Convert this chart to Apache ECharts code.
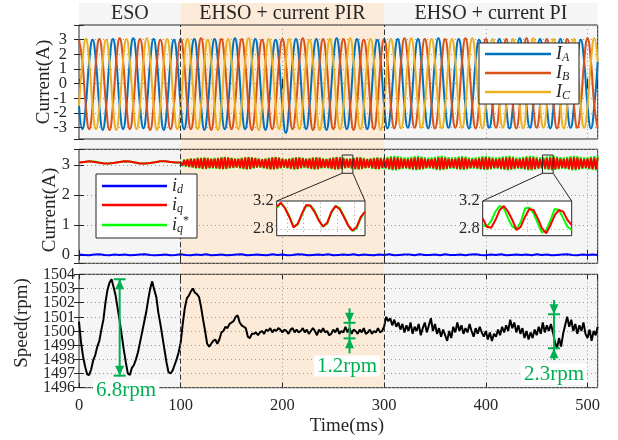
<!DOCTYPE html>
<html><head><meta charset="utf-8">
<script src="https://cdn.jsdelivr.net/npm/echarts@6/dist/echarts.min.js"></script>
<style>html,body{margin:0;padding:0;background:#fff}#c{width:618px;height:440px}</style>
</head><body><div id="c"></div>
<script>
// ---------------- DATA ----------------
const timeMax = 510;                 // ms
const phaseBounds = [0, 100, 300, 510];
const phaseLabels = ['ESO', 'EHSO + current PIR', 'EHSO + current PI'];
const speedTicks = [1496, 1497, 1498, 1499, 1500, 1501, 1502, 1503, 1504];

// Phase currents, one sample every 10/3 ms (60 electrical degrees at 50 Hz)
const phaseStep = 10 / 3;
const IA = [
-1.5,-3.1,-1.5,1.5,3.0,1.5, -1.55,-3.15,-1.55,1.5,3.05,1.55, -1.5,-3.1,-1.5,1.55,3.1,1.5, -1.5,-3.05,-1.5,1.5,3.05,1.5,
-1.55,-3.15,-1.5,1.5,3.0,1.5, -1.5,-3.1,-1.55,1.55,3.05,1.5, -1.5,-3.15,-1.5,1.5,3.05,1.5, -1.55,-3.1,-1.5,1.5,3.1,1.55,
-1.5,-3.1,-1.5,1.55,3.05,1.5, -1.5,-3.15,-1.55,1.5,3.0,1.5, -1.6,-3.35,-1.6,1.5,3.05,1.5, -1.5,-3.1,-1.5,1.5,3.05,1.5,
-1.5,-3.15,-1.5,1.55,3.1,1.5, -1.55,-3.1,-1.5,1.5,3.05,1.5, -1.5,-3.1,-1.55,1.5,3.0,1.5, -1.5,-3.05,-1.5,1.5,3.05,1.55,
-1.5,-3.0,-1.5,1.5,3.05,1.5, -1.5,-3.05,-1.5,1.55,3.1,1.5, -1.5,-3.0,-1.5,1.5,3.05,1.5, -1.55,-3.05,-1.5,1.5,3.0,1.5,
-1.5,-3.0,-1.5,1.5,3.05,1.5, -1.5,-3.05,-1.55,1.5,3.1,1.55, -1.5,-3.0,-1.5,1.5,3.05,1.5, -1.5,-3.05,-1.5,1.55,3.05,1.5,
-1.5,-3.0,-1.5,1.5,3.0,1.5, -1.5,-3.05,-1.5,1.5];
const IB = [
3.0,1.5,-1.5,-3.1,-1.55,1.5, 3.05,1.5,-1.5,-3.15,-1.5,1.55, 3.1,1.55,-1.5,-3.1,-1.55,1.5, 3.05,1.5,-1.55,-3.15,-1.5,1.5,
3.0,1.5,-1.5,-3.1,-1.5,1.5, 3.05,1.5,-1.5,-3.1,-1.55,1.5, 3.1,1.55,-1.5,-3.15,-1.5,1.5, 3.05,1.5,-1.55,-3.1,-1.5,1.55,
3.05,1.5,-1.5,-3.15,-1.55,1.5, 3.0,1.5,-1.5,-3.1,-1.5,1.5, 3.05,1.5,-1.5,-3.1,-1.5,1.5, 3.1,1.55,-1.5,-3.15,-1.55,1.5,
3.05,1.5,-1.5,-3.1,-1.5,1.5, 3.05,1.5,-1.55,-3.15,-1.5,1.55, 3.0,1.5,-1.5,-3.1,-1.5,1.5, 3.05,1.5,-1.5,-3.05,-1.5,1.5,
3.1,1.55,-1.5,-3.0,-1.5,1.5, 3.05,1.5,-1.5,-3.05,-1.55,1.5, 3.05,1.5,-1.5,-3.0,-1.5,1.55, 3.1,1.5,-1.5,-3.05,-1.5,1.5,
3.05,1.55,-1.5,-3.0,-1.5,1.5, 3.05,1.5,-1.5,-3.05,-1.5,1.5, 3.1,1.5,-1.55,-3.0,-1.5,1.5, 3.05,1.5,-1.5,-3.05,-1.5,1.55,
3.05,1.5,-1.5,-3.0,-1.5,1.5, 3.1,1.5,-1.5,-3.05];
const IC = [
-1.5,1.5,3.05,1.5,-1.5,-3.1, -1.55,1.5,3.0,1.5,-1.5,-3.15, -1.5,1.55,3.05,1.5,-1.55,-3.1, -1.5,1.5,3.1,1.55,-1.5,-3.15,
-1.5,1.5,3.05,1.5,-1.5,-3.1, -1.55,1.5,3.05,1.5,-1.5,-3.1, -1.5,1.5,3.0,1.5,-1.55,-3.15, -1.5,1.55,3.05,1.5,-1.5,-3.1,
-1.5,1.5,3.1,1.55,-1.5,-3.15, -1.55,1.5,3.05,1.5,-1.5,-3.1, -1.5,1.5,3.05,1.5,-1.5,-3.1, -1.5,1.5,3.0,1.5,-1.55,-3.15,
-1.5,1.55,3.05,1.5,-1.5,-3.1, -1.5,1.5,3.1,1.5,-1.5,-3.1, -1.55,1.5,3.05,1.55,-1.5,-3.15, -1.5,1.5,3.05,1.5,-1.5,-3.05,
-1.5,1.55,3.1,1.5,-1.5,-3.0, -1.5,1.5,3.05,1.5,-1.55,-3.05, -1.55,1.5,3.05,1.5,-1.5,-3.0, -1.5,1.5,3.1,1.55,-1.5,-3.05,
-1.5,1.5,3.05,1.5,-1.5,-3.0, -1.5,1.55,3.05,1.5,-1.5,-3.05, -1.5,1.5,3.1,1.5,-1.55,-3.0, -1.55,1.5,3.05,1.5,-1.5,-3.05,
-1.5,1.5,3.05,1.5,-1.5,-3.0, -1.5,1.5,3.1,1.5];

// d-axis current, every 5 ms
const idStep = 5;
const iD = [
0.01,0.0,-0.01,0.01,0.02,0.0,-0.01,0.01,0.0,0.01,
-0.01,0.0,0.01,0.02,0.0,-0.01,0.0,0.01,-0.01,0.0,
0.02,0.0,-0.01,0.01,0.0,0.02,-0.01,0.0,0.01,-0.01,
0.0,0.01,0.02,-0.01,0.0,0.01,0.0,-0.01,0.02,0.0,
0.01,-0.01,0.0,0.02,0.01,-0.01,0.0,0.01,0.0,0.02,
-0.01,0.0,0.01,0.0,0.02,-0.01,0.01,0.0,-0.01,0.01,
0.0,0.02,-0.01,0.0,0.01,0.01,-0.01,0.02,0.0,0.0,
0.01,-0.01,0.02,0.0,0.0,0.01,-0.01,0.01,0.02,0.0,
-0.01,0.01,0.0,0.02,-0.01,0.0,0.01,0.0,0.01,-0.01,
0.02,0.0,0.01,-0.01,0.0,0.01,0.02,0.0,-0.01,0.01,
0.0,0.01,0.0];

// q-axis current and its reference, ESO part (0-100 ms, every 5 ms)
const iqEsoStep = 5;
const iqEso    = [3.08,3.1,3.12,3.1,3.07,3.05,3.05,3.07,3.1,3.12,3.11,3.08,3.05,3.05,3.06,3.09,3.12,3.12,3.1,3.08,3.08];
const iqRefEso = [3.08,3.1,3.12,3.11,3.08,3.05,3.05,3.07,3.1,3.12,3.11,3.08,3.05,3.05,3.06,3.09,3.12,3.12,3.1,3.08,3.08];

// 300 Hz ripple part (100-510 ms), one sample every half ripple period (5/3 ms)
const rippleStart = 100, rippleStep = 5 / 3;
const iqRipple = [
3.08,2.98,3.16,2.96,3.18,2.94,3.2,2.92,3.2,2.9,3.22,2.9,
3.22,2.88,3.23,2.88,3.22,2.9,3.2,2.9,3.21,2.89,3.22,2.88,
3.24,2.87,3.25,2.88,3.24,2.9,3.22,2.91,3.2,2.92,3.2,2.9,
3.22,2.88,3.24,2.86,3.25,2.87,3.24,2.9,3.22,2.92,3.2,2.92,
3.18,2.9,3.2,2.88,3.22,2.86,3.24,2.86,3.25,2.88,3.23,2.9,
3.2,2.92,3.18,2.9,3.2,2.88,3.22,2.86,3.24,2.87,3.24,2.9,
3.22,2.92,3.2,2.9,3.21,2.88,3.23,2.86,3.24,2.87,3.23,2.9,
3.2,2.91,3.19,2.9,3.21,2.88,3.23,2.86,3.25,2.86,3.24,2.88,
3.22,2.9,3.2,2.91,3.2,2.89,3.22,2.87,3.24,2.86,3.24,2.88,
3.21,2.9,3.19,2.91,3.2,2.89,3.22,2.87,3.23,2.87,3.22,2.9,
3.2,2.9,3.22,2.87,3.24,2.85,3.25,2.85,3.24,2.87,3.22,2.89,
3.2,2.9,3.2,2.88,3.22,2.86,3.24,2.85,3.25,2.86,3.23,2.88,
3.21,2.9,3.19,2.91,3.2,2.89,3.22,2.86,3.24,2.85,3.25,2.86,
3.23,2.88,3.21,2.9,3.2,2.9,3.21,2.88,3.23,2.86,3.24,2.86,
3.23,2.88,3.2,2.9,3.19,2.91,3.2,2.89,3.22,2.87,3.24,2.86,
3.25,2.86,3.23,2.88,3.21,2.9,3.2,2.9,3.21,2.88,3.23,2.86,
3.24,2.85,3.25,2.86,3.23,2.88,3.2,2.9,3.2,2.89,3.22,2.87,
3.24,2.85,3.25,2.85,3.24,2.87,3.22,2.89,3.2,2.9,3.21,2.88,
3.23,2.86,3.24,2.85,3.25,2.86,3.23,2.88,3.21,2.9,3.2,2.89,
3.22,2.87,3.24,2.85,3.25,2.85,3.24,2.87,3.22,2.89,3.2,2.9,
3.21,2.88,3.23,2.86,3.24,2.85,3.24];
const iqRefRipple = [
3.08,2.96,3.18,2.94,3.2,2.92,3.22,2.9,3.22,2.88,3.24,2.88,
3.24,2.86,3.25,2.86,3.24,2.88,3.22,2.88,3.23,2.87,3.24,2.86,
3.26,2.85,3.27,2.86,3.26,2.88,3.24,2.89,3.22,2.9,3.22,2.88,
3.24,2.86,3.26,2.84,3.27,2.85,3.26,2.88,3.24,2.9,3.22,2.9,
3.2,2.88,3.22,2.86,3.24,2.84,3.26,2.84,3.27,2.86,3.25,2.88,
3.22,2.9,3.2,2.88,3.22,2.86,3.24,2.84,3.26,2.85,3.26,2.88,
3.24,2.9,3.22,2.88,3.23,2.86,3.25,2.84,3.26,2.85,3.25,2.88,
3.22,2.89,3.21,2.88,3.23,2.86,3.25,2.84,3.27,2.84,3.26,2.86,
3.24,2.88,3.22,2.89,3.22,2.87,3.24,2.85,3.26,2.84,3.26,2.86,
3.23,2.88,3.21,2.89,3.22,2.87,3.24,2.85,3.25,2.85,3.24,2.88,
3.25,2.87,3.27,2.84,3.29,2.82,3.3,2.82,3.29,2.84,3.27,2.86,
3.25,2.87,3.25,2.85,3.27,2.83,3.29,2.82,3.3,2.83,3.28,2.85,
3.26,2.87,3.24,2.88,3.25,2.86,3.27,2.83,3.29,2.82,3.3,2.83,
3.28,2.85,3.26,2.87,3.25,2.87,3.26,2.85,3.28,2.83,3.29,2.83,
3.28,2.85,3.25,2.87,3.24,2.88,3.25,2.86,3.27,2.84,3.29,2.83,
3.3,2.83,3.28,2.85,3.26,2.87,3.25,2.87,3.26,2.85,3.28,2.83,
3.29,2.82,3.3,2.83,3.28,2.85,3.25,2.87,3.25,2.86,3.27,2.84,
3.29,2.82,3.3,2.82,3.29,2.84,3.27,2.86,3.25,2.87,3.26,2.85,
3.28,2.83,3.29,2.82,3.3,2.83,3.28,2.85,3.26,2.87,3.25,2.86,
3.27,2.84,3.29,2.82,3.3,2.82,3.29,2.84,3.27,2.86,3.25,2.87,
3.26,2.85,3.28,2.83,3.29,2.82,3.29];

// zoomed insets (every 0.5 ms)
const insetStep = 0.5;
const inset1Start = 258.8, inset1End = 269.3;
const inset1Iq  = [3.117,3.175,3.092,2.97,2.82,2.872,3.019,3.141,3.131,3.043,2.92,2.832,2.886,3.043,3.126,3.082,2.97,2.847,2.774,2.822,2.97,3.043];
const inset1Ref = [3.10,3.17,3.10,2.98,2.83,2.86,3.0,3.13,3.14,3.06,2.93,2.83,2.87,3.03,3.13,3.1,2.98,2.85,2.77,2.81,2.95,3.05];
const inset2Start = 455.7, inset2End = 466.2;
const inset2Iq  = [2.95,2.83,2.815,2.926,3.07,3.128,3.046,2.926,2.782,2.83,2.974,3.085,3.07,2.95,2.806,2.734,2.854,2.998,3.07,3.046,2.926,2.854];
const inset2Ref = [2.854,2.83,2.912,3.046,3.128,3.094,2.95,2.83,2.796,2.902,3.094,3.104,3.022,2.878,2.743,2.782,2.926,3.085,3.07,2.95,2.83,2.782];
const inset1Grid = [260, 262, 264, 266, 268];
const inset2Grid = [461];

// speed, every 2 ms
const speedStep = 2;
const speed = [
1500.66,1499.2,1498.2,1497.5,1496.95,1496.9,1497.3,1497.95,1498.3,1498.9,
1499.3,1500.1,1500.8,1502.0,1502.9,1503.4,1503.65,1503.1,1502.5,1501.6,
1500.7,1499.7,1498.7,1497.8,1497.0,1496.9,1497.4,1497.6,1498.0,1498.5,
1499.2,1499.9,1500.6,1501.3,1502.2,1503.0,1503.5,1502.9,1502.4,1501.3,
1500.5,1499.6,1498.7,1497.8,1497.1,1497.0,1497.2,1497.6,1498.0,1498.5,
1499.2,1500.5,1501.6,1502.3,1502.5,1502.8,1503.0,1502.7,1502.6,1502.4,
1501.7,1500.8,1500.0,1499.1,1498.9,1499.1,1499.3,1499.4,1499.1,1499.4,
1499.9,1500.0,1500.3,1500.2,1500.5,1500.6,1500.7,1501.0,1501.1,1500.6,
1500.4,1500.3,1500.2,1499.6,1499.5,1499.8,1499.8,1499.9,1499.7,1499.9,
1500.0,1499.8,1500.1,1500.0,1500.2,1499.9,1500.1,1500.0,1500.2,1500.1,
1499.9,1500.1,1500.0,1499.8,1500.1,1500.2,1499.9,1500.1,1499.9,1500.0,
1500.2,1499.9,1500.1,1499.8,1500.0,1500.2,1500.0,1499.7,1500.1,1499.9,
1500.2,1499.9,1500.0,1499.7,1499.8,1500.1,1499.9,1500.2,1499.8,1500.0,
1499.9,1500.3,1499.9,1500.2,1499.8,1500.1,1500.0,1499.8,1500.1,1499.9,
1500.2,1499.8,1499.9,1500.1,1499.8,1500.0,1499.9,1500.2,1499.9,1500.0,
1500.3,1501.0,1500.7,1500.9,1500.4,1500.8,1500.3,1500.6,1500.1,1500.5,
1499.9,1500.4,1500.0,1500.6,1499.8,1500.3,1500.0,1500.5,1499.7,1500.2,
1500.6,1499.9,1500.4,1500.9,1500.0,1500.5,1499.8,1500.2,1499.6,1500.1,
1499.7,1499.3,1500.0,1499.5,1500.3,1499.9,1500.6,1500.0,1500.4,1499.8,
1500.2,1499.9,1500.5,1500.0,1499.6,1500.2,1499.8,1500.3,1499.9,1499.6,
1500.0,1499.4,1499.9,1499.3,1499.8,1499.6,1500.1,1499.7,1500.3,1499.9,
1500.4,1500.0,1500.8,1500.2,1500.6,1499.9,1500.4,1499.8,1500.2,1499.5,
1500.0,1499.4,1499.9,1499.5,1500.1,1499.7,1500.3,1499.8,1500.6,1499.9,
1500.4,1500.0,1500.5,1499.9,1499.2,1498.8,1499.5,1498.9,1499.8,1500.4,
1501.0,1500.3,1500.8,1500.0,1500.5,1499.8,1500.4,1500.0,1500.6,1499.8,
1499.5,1500.1,1499.3,1500.0,1499.7,1500.3];

// annotations
const ripple68 = {t: 40, top: 1503.65, bottom: 1496.85, label: '6.8rpm'};
const ripple12 = {t: 266, outerTop: 1501.6, top: 1500.58, bottom: 1499.48, outerBottom: 1498.42, label: '1.2rpm'};
const ripple23 = {t: 467, outerTop: 1502.19, top: 1501.18, bottom: 1498.78, outerBottom: 1497.95, label: '2.3rpm'};

// ---------------- CHART ----------------
const FONT = '"Liberation Serif", "Times New Roman", serif';
const TXT = '#262626';
const pairs = (arr, start, step) => arr.map((v, i) => [+(start + i * step).toFixed(4), v]);

const iqData = pairs(iqEso, 0, iqEsoStep).concat(pairs(iqRipple, rippleStart, rippleStep).slice(1));
const iqRefData = pairs(iqRefEso, 0, iqEsoStep).concat(pairs(iqRefRipple, rippleStart, rippleStep).slice(1));

const L = 79, W = 518.7;
const grids = [
  {left: L, top: 25, width: W, height: 114},
  {left: L, top: 149.3, width: W, height: 114},
  {left: L, top: 274.3, width: W, height: 113.4},
  {left: 276.7, top: 201, width: 88.3, height: 34.7, z: 3},
  {left: 482.7, top: 201, width: 89, height: 34.7, z: 3}
].map(g => Object.assign({show: true, borderColor: TXT, borderWidth: 1,
  backgroundColor: g.z ? '#fff' : 'transparent', outerBoundsMode: 'none', containLabel: false}, g));

const tickStyle = {inside: true, length: 5, lineStyle: {color: TXT, width: 1}};
const splitStyle = {show: true, lineStyle: {color: '#9a9a9a', type: [1, 3], width: 1}};
const labelFont = {fontFamily: FONT, fontSize: 16.5, color: TXT, hideOverlap: false};

const xAxes = [];
const yAxes = [];
for (let g = 0; g < 3; g++) {
  xAxes.push({type: 'value', gridIndex: g, min: 0, max: timeMax, interval: 100,
    axisLine: {show: false}, axisTick: tickStyle, splitLine: splitStyle,
    axisLabel: Object.assign({show: g === 2, margin: 9, showMaxLabel: false,
      formatter: v => (v % 100 === 0 ? String(v) : '')}, labelFont)});
}
const yInt = v => Math.abs(v - Math.round(v)) < 1e-6;
yAxes.push({type: 'value', gridIndex: 0, min: -3.77, max: 4, splitNumber: 8,
  axisLine: {show: false}, axisTick: tickStyle, splitLine: splitStyle,
  axisLabel: Object.assign({margin: 12, formatter: v => (yInt(v) && v >= -3 && v <= 3) ? String(Math.round(v)) : ''}, labelFont)});
yAxes.push({type: 'value', gridIndex: 1, min: -0.28, max: 3.52, splitNumber: 4,
  axisLine: {show: false}, axisTick: tickStyle, splitLine: splitStyle,
  axisLabel: Object.assign({margin: 9, formatter: v => (yInt(v) && v >= 0 && v <= 3) ? String(Math.round(v)) : ''}, labelFont)});
// speed axis: labels are drawn below from speedTicks (ECharts would drop crowded ones)
yAxes.push({type: 'value', gridIndex: 2, min: speedTicks[0], max: speedTicks[speedTicks.length - 1], interval: 1,
  axisLine: {show: false}, axisTick: tickStyle, splitLine: splitStyle, axisLabel: {show: false}});
// insets
[[inset1Start, inset1End], [inset2Start, inset2End]].forEach((r, k) => {
  xAxes.push({type: 'value', gridIndex: 3 + k, min: r[0], max: r[1], z: 3,
    axisLine: {show: false}, axisTick: {show: false}, splitLine: {show: false}, axisLabel: {show: false}});
  yAxes.push({type: 'value', gridIndex: 3 + k, min: 2.7, max: 3.2, interval: 0.1, z: 3,
    axisLine: {show: false}, axisTick: {show: false}, splitLine: {show: false},
    axisLabel: Object.assign({margin: 3, showMinLabel: false,
      formatter: v => (Math.abs(v - 2.8) < 1e-6 || Math.abs(v - 3.2) < 1e-6) ? v.toFixed(1) : ''}, labelFont)});
});
// mirrored ticks (top / right)
for (let g = 0; g < 3; g++) {
  xAxes.push({type: 'value', gridIndex: g, position: 'top', min: 0, max: timeMax, interval: 100,
    axisLine: {show: false}, axisTick: tickStyle, splitLine: {show: false}, axisLabel: {show: false}});
  const y = yAxes[g];
  yAxes.push({type: 'value', gridIndex: g, position: 'right', min: y.min, max: y.max,
    interval: y.interval, splitNumber: y.splitNumber,
    axisLine: {show: false}, axisTick: tickStyle, splitLine: {show: false}, axisLabel: {show: false}});
}

const boundaryMark = {silent: true, symbol: 'none', label: {show: false},
  lineStyle: {color: '#333', type: [5, 3], width: 1}, data: [{xAxis: 100}, {xAxis: 300}]};
const insetMark = (xs) => ({silent: true, symbol: 'none', label: {show: false},
  lineStyle: {color: '#9a9a9a', type: [1, 3], width: 1},
  data: xs.map(x => ({xAxis: x})).concat([{yAxis: 2.8}])});

const line = (name, data, color, xi, yi, extra) => Object.assign({
  type: 'line', name, data, xAxisIndex: xi, yAxisIndex: yi, showSymbol: false, symbol: 'none',
  lineStyle: {color, width: 2}, itemStyle: {color}, color, animation: false}, extra || {});

const series = [
  line('IA', pairs(IA, 0, phaseStep), '#0072BD', 0, 0, {smooth: 0.5, markLine: boundaryMark}),
  line('IB', pairs(IB, 0, phaseStep), '#D95319', 0, 0, {smooth: 0.5}),
  line('IC', pairs(IC, 0, phaseStep), '#EDB120', 0, 0, {smooth: 0.5}),
  line('id', pairs(iD, 0, idStep), '#0000FF', 1, 1, {markLine: boundaryMark}),
  line('iqs', iqRefData, '#00FF00', 1, 1),
  line('iq', iqData, '#FF0000', 1, 1),
  line('speed', pairs(speed, 0, speedStep), '#000000', 2, 2, {markLine: boundaryMark}),
  line('iqs', pairs(inset1Ref, inset1Start, insetStep), '#00FF00', 3, 3, {z: 5, markLine: insetMark(inset1Grid)}),
  line('iq', pairs(inset1Iq, inset1Start, insetStep), '#FF0000', 3, 3, {z: 5}),
  line('iqs', pairs(inset2Ref, inset2Start, insetStep), '#00FF00', 4, 4, {z: 5, markLine: insetMark(inset2Grid)}),
  line('iq', pairs(inset2Iq, inset2Start, insetStep), '#FF0000', 4, 4, {z: 5})
];

const legendNames = {IA: '{m|I}{s|A}', IB: '{m|I}{s|B}', IC: '{m|I}{s|C}',
  id: '{m|i}{s|d}', iq: '{m|i}{s|q}', iqs: '{m|i}{s|q}{p|*}'};
const rich = {
  m: {fontFamily: FONT, fontStyle: 'italic', fontSize: 18, lineHeight: 20, color: TXT},
  s: {fontFamily: FONT, fontStyle: 'italic', fontSize: 12, lineHeight: 12, verticalAlign: 'bottom', color: TXT},
  p: {fontFamily: FONT, fontSize: 12, lineHeight: 12, verticalAlign: 'top', color: TXT}
};
const legendBase = {orient: 'vertical', icon: 'rect', itemHeight: 2.5, itemGap: 0, selectedMode: false,
  backgroundColor: '#fff', borderColor: TXT, borderWidth: 1, z: 6,
  formatter: n => legendNames[n], textStyle: {fontFamily: FONT, fontSize: 18, color: TXT, rich}};

const option = {
  animation: false,
  backgroundColor: '#fff',
  grid: grids,
  xAxis: xAxes,
  yAxis: yAxes,
  legend: [
    Object.assign({}, legendBase, {data: ['IA', 'IB', 'IC'], left: 479, top: 43, itemWidth: 66, padding: [2, 9, 2, 6]}),
    Object.assign({}, legendBase, {data: ['id', 'iq', 'iqs'], left: 96, top: 174, itemWidth: 65, padding: [3, 8, 3, 6]})
  ],
  series
};

const chart = echarts.init(document.getElementById('c'), null, {renderer: 'canvas', width: 618, height: 440});
chart.setOption(option);

// ---------- annotations positioned via the axes ----------
const P = (si, x, y) => chart.convertToPixel({seriesIndex: si}, [x, y]);
const xs = phaseBounds.map(t => P(0, t, 0)[0]);
const yBottom = P(6, 0, speedTicks[0])[1];
const shadeColors = ['#f5f5f5', '#fcebd8', '#f5f5f5'];
const G = [];
for (let i = 0; i < 3; i++) {
  G.push({type: 'rect', z: -10, silent: true,
    shape: {x: xs[i], y: 3, width: xs[i + 1] - xs[i], height: yBottom - 3},
    style: {fill: shadeColors[i]}});
  G.push({type: 'text', z: 1, silent: true, x: (xs[i] + xs[i + 1]) / 2, y: 14,
    style: {text: phaseLabels[i], font: '20px ' + FONT, fill: TXT, align: 'center', verticalAlign: 'middle'}});
}
// speed tick labels
speedTicks.forEach(v => {
  const p = P(6, 0, v);
  G.push({type: 'text', silent: true, x: p[0] - 4, y: p[1] + 0.5,
    style: {text: String(v), font: '16px ' + FONT, fill: TXT, align: 'right', verticalAlign: 'middle'}});
});
// axis titles
[['Current(A)', 44, 82], ['Current(A)', 50, 210], ['Speed(rpm)', 22, 323]].forEach(a => {
  G.push({type: 'text', silent: true, x: a[1], y: a[2], rotation: Math.PI / 2,
    style: {text: a[0], font: '19px ' + FONT, fill: TXT, align: 'center', verticalAlign: 'middle'}});
});
G.push({type: 'text', silent: true, x: 347, y: 426,
  style: {text: 'Time(ms)', font: '19px ' + FONT, fill: TXT, align: 'center', verticalAlign: 'middle'}});

// zoom boxes + connectors
[[inset1Start, inset1End, 7], [inset2Start, inset2End, 9]].forEach(b => {
  const a = P(5, b[0], 3.33), c = P(5, b[1], 2.72);
  G.push({type: 'rect', z: 8, silent: true, shape: {x: a[0], y: a[1], width: c[0] - a[0], height: c[1] - a[1]},
    style: {fill: 'none', stroke: TXT, lineWidth: 1}});
  const il = P(b[2], b[0], 3.2), ir = P(b[2], b[1], 3.2);
  G.push({type: 'line', z: 8, silent: true, shape: {x1: a[0], y1: c[1], x2: il[0], y2: il[1]}, style: {stroke: TXT, lineWidth: 1}});
  G.push({type: 'line', z: 8, silent: true, shape: {x1: c[0], y1: c[1], x2: ir[0], y2: ir[1]}, style: {stroke: TXT, lineWidth: 1}});
});

// green ripple markers
const GREEN = '#00B050';
const head = (x, tipY, dir) => ({type: 'polygon', z: 9, silent: true,
  shape: {points: [[x - 4.5, tipY - dir * 10], [x + 4.5, tipY - dir * 10], [x, tipY]]}, style: {fill: GREEN}});
const bar = (x, y) => ({type: 'line', z: 9, silent: true, shape: {x1: x - 6, y1: y, x2: x + 6, y2: y}, style: {stroke: GREEN, lineWidth: 2}});
const vline = (x, y1, y2) => ({type: 'line', z: 9, silent: true, shape: {x1: x, y1, x2: x, y2}, style: {stroke: GREEN, lineWidth: 2}});
{
  const t = P(6, ripple68.t, ripple68.top), b = P(6, ripple68.t, ripple68.bottom);
  G.push(vline(t[0], t[1], b[1]), bar(t[0], t[1]), bar(t[0], b[1]), head(t[0], t[1], -1), head(t[0], b[1], 1));
}
[ripple12, ripple23].forEach(r => {
  const x = P(6, r.t, 0)[0];
  const yo1 = P(6, r.t, r.outerTop)[1], y1 = P(6, r.t, r.top)[1], y2 = P(6, r.t, r.bottom)[1], yo2 = P(6, r.t, r.outerBottom)[1];
  G.push(vline(x, yo1, yo2), bar(x, y1), bar(x, y2), head(x, y1, 1), head(x, y2, -1));
});
[[ripple68.label, 126, 390], [ripple12.label, 347, 366], [ripple23.label, 554, 374]].forEach(a => {
  G.push({type: 'text', z: 9, silent: true, x: a[1], y: a[2],
    style: {text: a[0], font: '21px ' + FONT, fill: GREEN, align: 'center', verticalAlign: 'middle',
      backgroundColor: '#fff', padding: [0, 3, 0, 3]}});
});

chart.setOption({graphic: {elements: G}});
</script>
</body></html>
